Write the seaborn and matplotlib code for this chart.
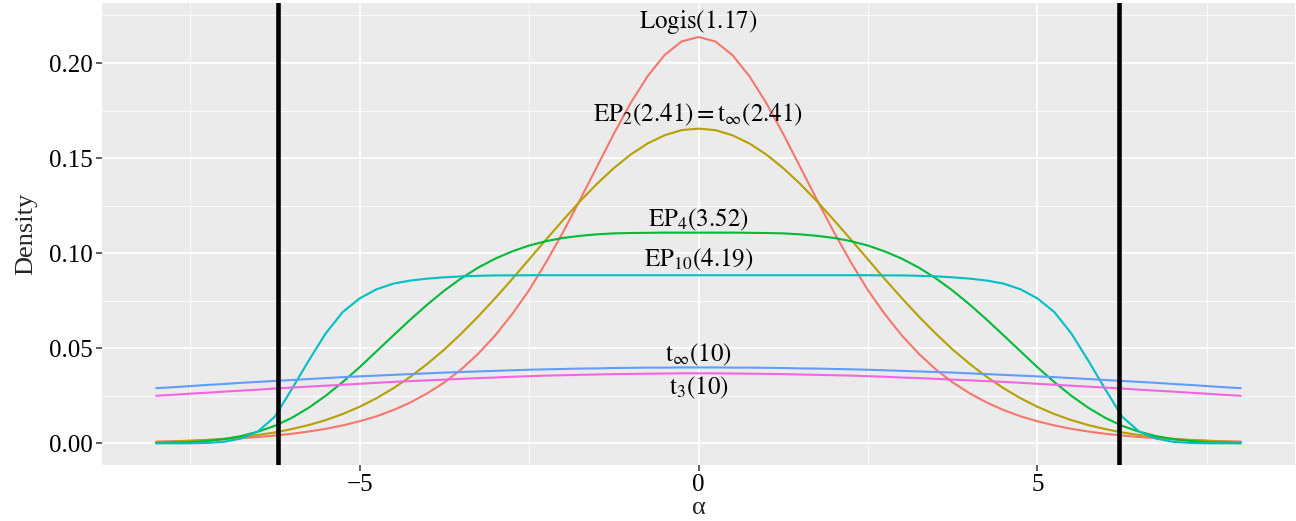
import pandas as pd
import matplotlib
matplotlib.use("Agg")
import matplotlib.pyplot as plt
import seaborn as sns

# ======================================================================
# DATA
# ======================================================================
alpha = [-8.0, -7.75, -7.5, -7.25, -7.0, -6.75, -6.5, -6.25, -6.0, -5.75, -5.5, -5.25,
         -5.0, -4.75, -4.5, -4.25, -4.0, -3.75, -3.5, -3.25, -3.0, -2.75, -2.5, -2.25,
         -2.0, -1.75, -1.5, -1.25, -1.0, -0.75, -0.5, -0.25, 0.0, 0.25, 0.5, 0.75,
         1.0, 1.25, 1.5, 1.75, 2.0, 2.25, 2.5, 2.75, 3.0, 3.25, 3.5, 3.75,
         4.0, 4.25, 4.5, 4.75, 5.0, 5.25, 5.5, 5.75, 6.0, 6.25, 6.5, 6.75,
         7.0, 7.25, 7.5, 7.75, 8.0]

logis = [0.0009, 0.0011, 0.0014, 0.0017, 0.0021, 0.0027, 0.0033, 0.0041, 0.0050, 0.0062, 0.0076,
         0.0094, 0.0116, 0.0142, 0.0175, 0.0215, 0.0263, 0.0320, 0.0389, 0.0471, 0.0567, 0.0679,
         0.0805, 0.0951, 0.1109, 0.1279, 0.1453, 0.1627, 0.1790, 0.1931, 0.2042, 0.2113, 0.2137,
         0.2113, 0.2042, 0.1931, 0.1790, 0.1627, 0.1453, 0.1279, 0.1109, 0.0951, 0.0805, 0.0679,
         0.0567, 0.0471, 0.0389, 0.0320, 0.0263, 0.0215, 0.0175, 0.0142, 0.0116, 0.0094, 0.0076,
         0.0062, 0.0050, 0.0041, 0.0033, 0.0027, 0.0021, 0.0017, 0.0014, 0.0011, 0.0009]

ep2 = [0.0007, 0.0009, 0.0013, 0.0018, 0.0024, 0.0033, 0.0044, 0.0057, 0.0075, 0.0096, 0.0122,
       0.0154, 0.0192, 0.0237, 0.0290, 0.0350, 0.0418, 0.0493, 0.0577, 0.0667, 0.0763, 0.0863,
       0.0967, 0.1071, 0.1173, 0.1272, 0.1364, 0.1447, 0.1519, 0.1577, 0.1620, 0.1647, 0.1655,
       0.1647, 0.1620, 0.1577, 0.1519, 0.1447, 0.1364, 0.1272, 0.1173, 0.1071, 0.0967, 0.0863,
       0.0763, 0.0667, 0.0577, 0.0493, 0.0418, 0.0350, 0.0290, 0.0237, 0.0192, 0.0154, 0.0122,
       0.0096, 0.0075, 0.0057, 0.0044, 0.0033, 0.0024, 0.0018, 0.0013, 0.0009, 0.0007]

ep4 = [0.0001, 0.0003, 0.0006, 0.0012, 0.0022, 0.0038, 0.0061, 0.0092, 0.0134, 0.0187, 0.0250,
       0.0322, 0.0400, 0.0484, 0.0568, 0.0651, 0.0730, 0.0803, 0.0868, 0.0924, 0.0971, 0.1009,
       0.1040, 0.1063, 0.1080, 0.1091, 0.1099, 0.1104, 0.1106, 0.1107, 0.1108, 0.1108, 0.1108,
       0.1108, 0.1108, 0.1107, 0.1106, 0.1104, 0.1099, 0.1091, 0.1080, 0.1063, 0.1040, 0.1009,
       0.0971, 0.0924, 0.0868, 0.0803, 0.0730, 0.0651, 0.0568, 0.0484, 0.0400, 0.0322, 0.0250,
       0.0187, 0.0134, 0.0092, 0.0061, 0.0038, 0.0022, 0.0012, 0.0006, 0.0003, 0.0001]

ep10 = [0.0000, 0.0000, 0.0000, 0.0002, 0.0008, 0.0025, 0.0062, 0.0140, 0.0285, 0.0435, 0.0578,
        0.0690, 0.0762, 0.0810, 0.0840, 0.0856, 0.0866, 0.0873, 0.0878, 0.0881, 0.0883, 0.0883,
        0.0884, 0.0884, 0.0884, 0.0884, 0.0884, 0.0884, 0.0884, 0.0884, 0.0884, 0.0884, 0.0884,
        0.0884, 0.0884, 0.0884, 0.0884, 0.0884, 0.0884, 0.0884, 0.0884, 0.0884, 0.0884, 0.0883,
        0.0883, 0.0881, 0.0878, 0.0873, 0.0866, 0.0856, 0.0840, 0.0810, 0.0762, 0.0690, 0.0578,
        0.0435, 0.0285, 0.0140, 0.0062, 0.0025, 0.0008, 0.0002, 0.0000, 0.0000, 0.0000]

t_inf10 = [0.0290, 0.0295, 0.0301, 0.0307, 0.0312, 0.0318, 0.0323, 0.0328, 0.0333, 0.0338, 0.0343,
           0.0348, 0.0352, 0.0356, 0.0360, 0.0364, 0.0368, 0.0372, 0.0375, 0.0378, 0.0381, 0.0384,
           0.0387, 0.0389, 0.0391, 0.0393, 0.0394, 0.0396, 0.0397, 0.0398, 0.0398, 0.0399, 0.0399,
           0.0399, 0.0398, 0.0398, 0.0397, 0.0396, 0.0394, 0.0393, 0.0391, 0.0389, 0.0387, 0.0384,
           0.0381, 0.0378, 0.0375, 0.0372, 0.0368, 0.0364, 0.0360, 0.0356, 0.0352, 0.0348, 0.0343,
           0.0338, 0.0333, 0.0328, 0.0323, 0.0318, 0.0312, 0.0307, 0.0301, 0.0295, 0.0290]

t3_10 = [0.0250, 0.0255, 0.0261, 0.0266, 0.0272, 0.0277, 0.0282, 0.0288, 0.0293, 0.0298, 0.0303,
         0.0308, 0.0313, 0.0318, 0.0323, 0.0327, 0.0331, 0.0335, 0.0339, 0.0343, 0.0346, 0.0350,
         0.0353, 0.0356, 0.0358, 0.0360, 0.0362, 0.0364, 0.0365, 0.0366, 0.0367, 0.0368, 0.0368,
         0.0368, 0.0367, 0.0366, 0.0365, 0.0364, 0.0362, 0.0360, 0.0358, 0.0356, 0.0353, 0.0350,
         0.0346, 0.0343, 0.0339, 0.0335, 0.0331, 0.0327, 0.0323, 0.0318, 0.0313, 0.0308, 0.0303,
         0.0298, 0.0293, 0.0288, 0.0282, 0.0277, 0.0272, 0.0266, 0.0261, 0.0255, 0.0250]

dist_names = ['Logis', 'EP2', 'EP4', 'EP10', 't_inf', 't3']
dist_colors = ['#F8766D', '#B79F00', '#00BA38', '#00BFC4', '#619CFF', '#F564E3']

# curve labels (placed at alpha = 0)
label_text = [r'$\mathrm{Logis}(1.17)$',
              r'$\mathrm{EP}_2(2.41) = \mathrm{t}_\infty(2.41)$',
              r'$\mathrm{EP}_4(3.52)$',
              r'$\mathrm{EP}_{10}(4.19)$',
              r'$\mathrm{t}_\infty(10)$',
              r'$\mathrm{t}_3(10)$']
label_y = [0.2216, 0.1726, 0.1174, 0.0964, 0.0464, 0.0289]

cut_points = [-6.21, 6.21]

# ======================================================================
# PLOT
# ======================================================================
sns.set_theme(style="darkgrid", rc={
    'axes.facecolor': '#EBEBEB',
    'grid.color': 'white',
    'axes.edgecolor': '#EBEBEB',
    'axes.linewidth': 0,
    'mathtext.fontset': 'stix',
    'lines.solid_joinstyle': 'round',
})
plt.rcParams['font.family'] = ['Liberation Serif', 'DejaVu Serif']

frames = []
for name, vals in zip(dist_names, [logis, ep2, ep4, ep10, t_inf10, t3_10]):
    frames.append(pd.DataFrame({'alpha': alpha, 'density': vals, 'dist': name}))
df = pd.concat(frames, ignore_index=True)

fig = plt.figure(figsize=(12.96, 5.21), dpi=100)
ax = fig.add_axes([102 / 1296, 1 - 464.7 / 521, 1193 / 1296, 461.4 / 521])

sns.lineplot(data=df, x='alpha', y='density', hue='dist', hue_order=dist_names,
             palette=dist_colors, linewidth=1.5, legend=False, sort=False,
             estimator=None, ax=ax, zorder=3)

for c in cut_points:
    ax.axvline(c, color='black', linewidth=3.3, zorder=4)

for txt, y in zip(label_text, label_y):
    ax.text(0, y, txt, ha='center', va='center', fontsize=18, color='black', zorder=5)

ax.set_xlim(-8.8, 8.8)
ax.set_ylim(-0.01125, 0.2314)
ax.set_xticks([-5, 0, 5])
ax.set_xticklabels(['\u22125', '0', '5'])
ax.set_yticks([0.0, 0.05, 0.10, 0.15, 0.20])
ax.set_yticklabels(['0.00', '0.05', '0.10', '0.15', '0.20'])
ax.set_xticks([-7.5, -2.5, 2.5, 7.5], minor=True)
ax.set_yticks([0.025, 0.075, 0.125, 0.175, 0.225], minor=True)
ax.grid(which='major', color='white', linewidth=1.3)
ax.grid(which='minor', color='white', linewidth=0.6)
ax.tick_params(which='major', length=4, width=1.1, color='#333333', labelsize=18,
               labelcolor='black', pad=3, bottom=True, left=True)
ax.tick_params(which='minor', length=0)
for s in ax.spines.values():
    s.set_visible(False)

ax.set_xlabel('\u03b1', fontsize=19, va='baseline')
ax.xaxis.set_label_coords(0.5, -0.107)
ax.set_ylabel('Density', fontsize=19, labelpad=8)

fig.savefig('out.png', dpi=100)
